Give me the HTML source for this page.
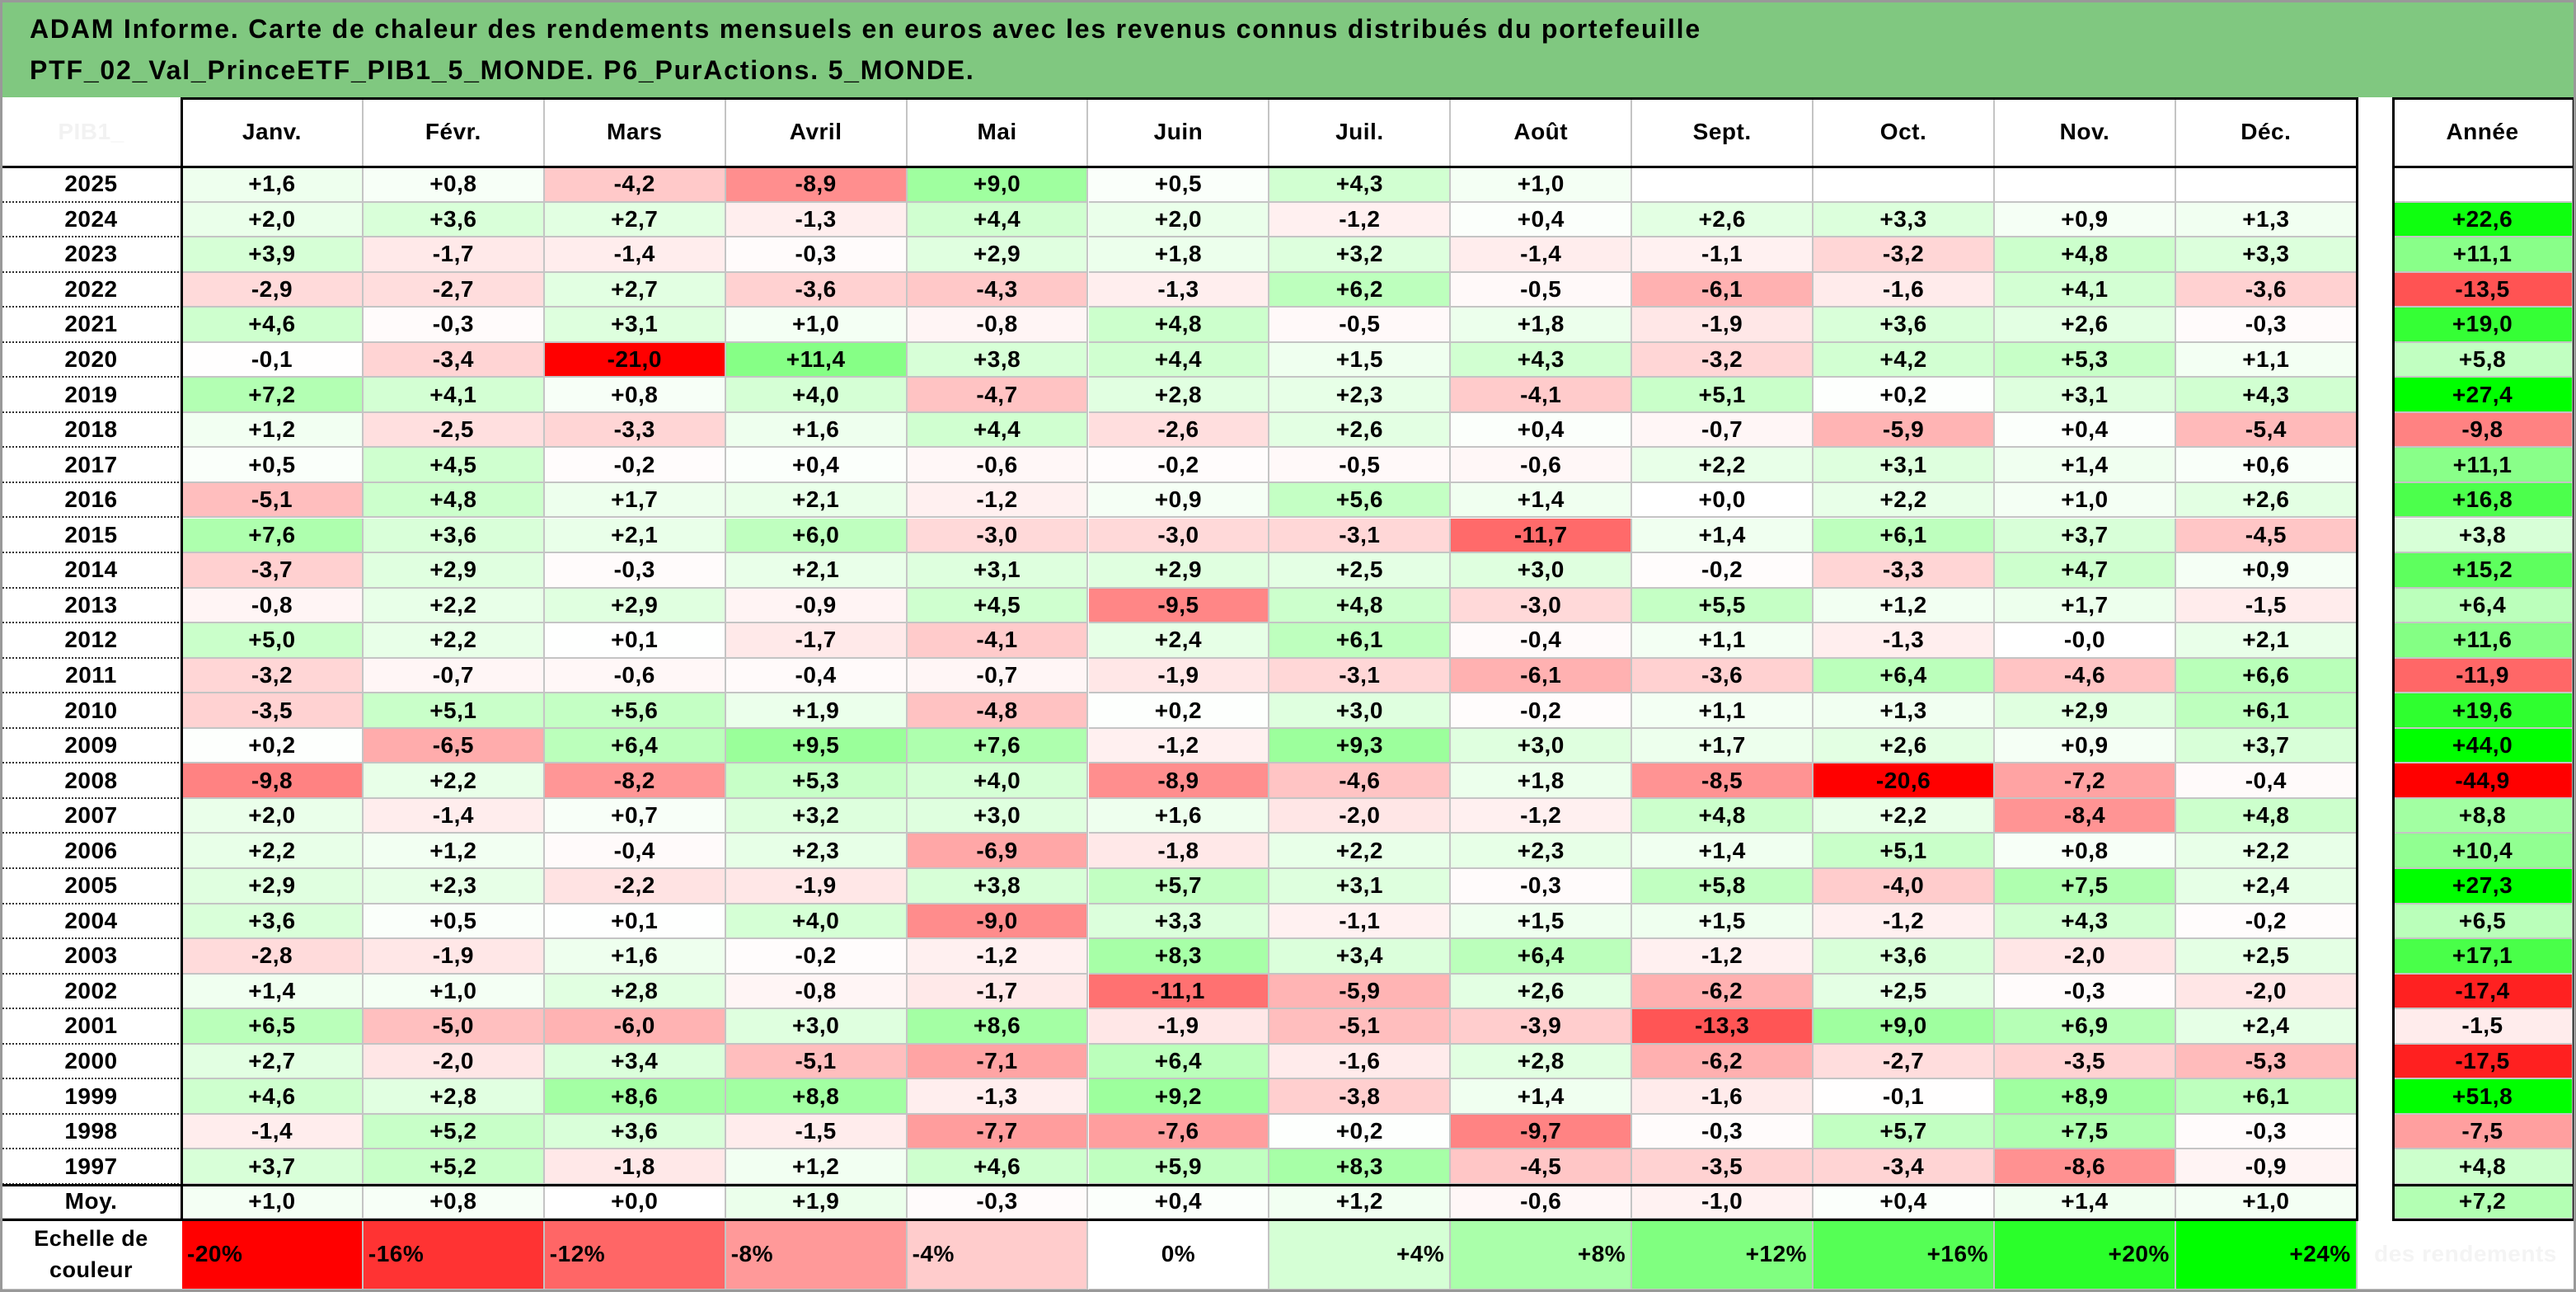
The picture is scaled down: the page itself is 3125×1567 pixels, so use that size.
<!DOCTYPE html>
<html><head><meta charset="utf-8">
<style>
html,body{margin:0;padding:0;background:#fff;}
#root{position:relative;width:3125px;height:1567px;overflow:hidden;font-family:"Liberation Sans",sans-serif;font-weight:bold;color:#000;}
.c{position:absolute;box-sizing:border-box;display:flex;align-items:center;justify-content:center;font-size:28px;letter-spacing:0.5px;border-right:2px solid #c4c4c4;border-bottom:2px solid #c4c4c4;white-space:nowrap;}
.ln{position:absolute;background:#000;}
</style></head><body>
<div id="root">
<div id="title" style="position:absolute;left:0;top:0;width:3125px;height:118px;background:#80c880;font-size:32px;letter-spacing:1.8px;line-height:50px;padding:10px 0 0 36px;box-sizing:border-box;">
<div>ADAM Informe. Carte de chaleur des rendements mensuels en euros avec les revenus connus distribués du portefeuille</div>
<div>PTF_02_Val_PrinceETF_PIB1_5_MONDE. P6_PurActions. 5_MONDE.</div>
</div>
</div>
<script>
const months = ["Janv.","Févr.","Mars","Avril","Mai","Juin","Juil.","Août","Sept.","Oct.","Nov.","Déc."];
const years = ["2025","2024","2023","2022","2021","2020","2019","2018","2017","2016","2015","2014","2013","2012","2011","2010","2009","2008","2007","2006","2005","2004","2003","2002","2001","2000","1999","1998","1997"];
const monthly = [
[1.6,0.8,-4.2,-8.9,9.0,0.5,4.3,1.0,null,null,null,null],
[2.0,3.6,2.7,-1.3,4.4,2.0,-1.2,0.4,2.6,3.3,0.9,1.3],
[3.9,-1.7,-1.4,-0.3,2.9,1.8,3.2,-1.4,-1.1,-3.2,4.8,3.3],
[-2.9,-2.7,2.7,-3.6,-4.3,-1.3,6.2,-0.5,-6.1,-1.6,4.1,-3.6],
[4.6,-0.3,3.1,1.0,-0.8,4.8,-0.5,1.8,-1.9,3.6,2.6,-0.3],
[-0.1,-3.4,-21.0,11.4,3.8,4.4,1.5,4.3,-3.2,4.2,5.3,1.1],
[7.2,4.1,0.8,4.0,-4.7,2.8,2.3,-4.1,5.1,0.2,3.1,4.3],
[1.2,-2.5,-3.3,1.6,4.4,-2.6,2.6,0.4,-0.7,-5.9,0.4,-5.4],
[0.5,4.5,-0.2,0.4,-0.6,-0.2,-0.5,-0.6,2.2,3.1,1.4,0.6],
[-5.1,4.8,1.7,2.1,-1.2,0.9,5.6,1.4,0.0,2.2,1.0,2.6],
[7.6,3.6,2.1,6.0,-3.0,-3.0,-3.1,-11.7,1.4,6.1,3.7,-4.5],
[-3.7,2.9,-0.3,2.1,3.1,2.9,2.5,3.0,-0.2,-3.3,4.7,0.9],
[-0.8,2.2,2.9,-0.9,4.5,-9.5,4.8,-3.0,5.5,1.2,1.7,-1.5],
[5.0,2.2,0.1,-1.7,-4.1,2.4,6.1,-0.4,1.1,-1.3,-0.01,2.1],
[-3.2,-0.7,-0.6,-0.4,-0.7,-1.9,-3.1,-6.1,-3.6,6.4,-4.6,6.6],
[-3.5,5.1,5.6,1.9,-4.8,0.2,3.0,-0.2,1.1,1.3,2.9,6.1],
[0.2,-6.5,6.4,9.5,7.6,-1.2,9.3,3.0,1.7,2.6,0.9,3.7],
[-9.8,2.2,-8.2,5.3,4.0,-8.9,-4.6,1.8,-8.5,-20.6,-7.2,-0.4],
[2.0,-1.4,0.7,3.2,3.0,1.6,-2.0,-1.2,4.8,2.2,-8.4,4.8],
[2.2,1.2,-0.4,2.3,-6.9,-1.8,2.2,2.3,1.4,5.1,0.8,2.2],
[2.9,2.3,-2.2,-1.9,3.8,5.7,3.1,-0.3,5.8,-4.0,7.5,2.4],
[3.6,0.5,0.1,4.0,-9.0,3.3,-1.1,1.5,1.5,-1.2,4.3,-0.2],
[-2.8,-1.9,1.6,-0.2,-1.2,8.3,3.4,6.4,-1.2,3.6,-2.0,2.5],
[1.4,1.0,2.8,-0.8,-1.7,-11.1,-5.9,2.6,-6.2,2.5,-0.3,-2.0],
[6.5,-5.0,-6.0,3.0,8.6,-1.9,-5.1,-3.9,-13.3,9.0,6.9,2.4],
[2.7,-2.0,3.4,-5.1,-7.1,6.4,-1.6,2.8,-6.2,-2.7,-3.5,-5.3],
[4.6,2.8,8.6,8.8,-1.3,9.2,-3.8,1.4,-1.6,-0.1,8.9,6.1],
[-1.4,5.2,3.6,-1.5,-7.7,-7.6,0.2,-9.7,-0.3,5.7,7.5,-0.3],
[3.7,5.2,-1.8,1.2,4.6,5.9,8.3,-4.5,-3.5,-3.4,-8.6,-0.9]
];
const annual = [null,22.6,11.1,-13.5,19.0,5.8,27.4,-9.8,11.1,16.8,3.8,15.2,6.4,11.6,-11.9,19.6,44.0,-44.9,8.8,10.4,27.3,6.5,17.1,-17.4,-1.5,-17.5,51.8,-7.5,4.8];
const averages = [1.0,0.8,0.0,1.9,-0.3,0.4,1.2,-0.6,-1.0,0.4,1.4,1.0];
const averageAnnual = 7.2;
const scaleValues = [-20,-16,-12,-8,-4,0,4,8,12,16,20,24];

const root = document.getElementById('root');
const X0 = 221, CW = 219.9, AX = 2903, AW = 219;
const HY = 118, HH = 85, RY = 203, RH = 42.55;
const MOYY = RY + years.length * RH, MOYH = 42;
const SCY = MOYY + MOYH, SCH = 86;
const xMonth = i => X0 + i * CW;
const yRow = r => RY + r * RH;

function color(v){
  if (v === null) return '#fff';
  if (v < 0){ const t = Math.min(1, -v/20); const g = Math.round(255*(1-t)); return `rgb(255,${g},${g})`; }
  const t = Math.min(1, v/24); const g = Math.round(255*(1-t)); return `rgb(${g},255,${g})`;
}
function fmt(v){
  if (v === null) return '';
  const s = Math.abs(v).toFixed(1).replace('.', ',');
  return (v < 0 ? '-' : '+') + s;
}
function cell(x,y,w,h,txt,bg,name,extra){
  const d = document.createElement('div');
  d.className = 'c';
  d.style.left = x+'px'; d.style.top = y+'px'; d.style.width = w+'px'; d.style.height = h+'px';
  d.style.background = bg;
  if (extra) Object.assign(d.style, extra);
  d.textContent = txt;
  
  
  root.appendChild(d);
  return d;
}
function line(x,y,w,h,name){
  const d = document.createElement('div');
  d.className = 'ln';
  d.style.left = x+'px'; d.style.top = y+'px'; d.style.width = w+'px'; d.style.height = h+'px';
  
  
  root.appendChild(d);
}

// header
cell(0, HY, X0, HH, 'PIB1_', '#fff', 'corner-header', {color:'#f2f2f2', borderRight:'none'});
months.forEach((m,i)=> cell(xMonth(i), HY, CW, HH, m, '#fff', 'month-header-'+(i+1)));
cell(AX, HY, AW, HH, 'Année', '#fff', 'year-total-header');

// data rows
years.forEach((yr,r)=>{
  cell(0, yRow(r), X0, RH, yr, '#fff', 'year-label-'+yr, {borderRight:'none', borderBottom:'2px dotted #333'});
  monthly[r].forEach((v,i)=> cell(xMonth(i), yRow(r), CW, RH, fmt(v), color(v), 'cell-'+yr+'-'+(i+1)));
  cell(AX, yRow(r), AW, RH, fmt(annual[r]), color(annual[r]), 'annual-'+yr);
});

// average row
cell(0, MOYY, X0, MOYH, 'Moy.', '#fff', 'average-label', {borderRight:'none'});
averages.forEach((v,i)=> cell(xMonth(i), MOYY, CW, MOYH, fmt(v), color(v), 'average-'+(i+1)));
cell(AX, MOYY, AW, MOYH, fmt(averageAnnual), color(averageAnnual), 'average-annual');

// scale row
const lab = cell(0, SCY, X0, SCH, '', '#fff', 'scale-label', {borderRight:'none', flexDirection:'column', lineHeight:'38px', fontSize:'27px'});
lab.innerHTML = '<span>Echelle de</span><span>couleur</span>';
scaleValues.forEach((v,i)=>{
  const txt = (v>0?'+':'') + v + '%';
  const jc = v<0 ? 'flex-start' : (v===0 ? 'center' : 'flex-end');
  cell(xMonth(i), SCY, CW, SCH, txt, color(v), 'scale-step-'+(i+1), {justifyContent:jc, padding:'0 6px'});
});
cell(2860, SCY, 3122-2860, SCH, 'des rendements', '#fff', 'scale-note', {color:'#f4f4f4', borderRight:'none'});

// black structure lines
line(219, HY, 3, SCY - HY, 'year-column-border');
line(221, HY, 2640, 3, 'header-top-border');
line(0, RY-2, 2861, 3, 'header-bottom-border');
line(2858, HY, 3, SCY-HY, 'december-right-border');
line(0, MOYY-1, 2861, 3, 'average-top-border');
line(0, SCY-1, 2861, 3, 'average-bottom-border');
line(AX-1, HY, 3, SCY-HY, 'annual-left-border');
line(AX+AW-1, HY, 3, SCY-HY, 'annual-right-border');
line(AX-1, HY, AW+2, 3, 'annual-top-border');
line(AX-1, RY-2, AW+2, 3, 'annual-header-bottom');
line(AX-1, MOYY-1, AW+2, 3, 'annual-average-top');
line(AX-1, SCY-1, AW+2, 3, 'annual-bottom-border');

// outer frame
const f = document.createElement('div');
f.style.cssText = 'position:absolute;left:0;top:0;width:3125px;height:1567px;box-sizing:border-box;border:3px solid #999;pointer-events:none;';


root.appendChild(f);
</script>
</body></html>
